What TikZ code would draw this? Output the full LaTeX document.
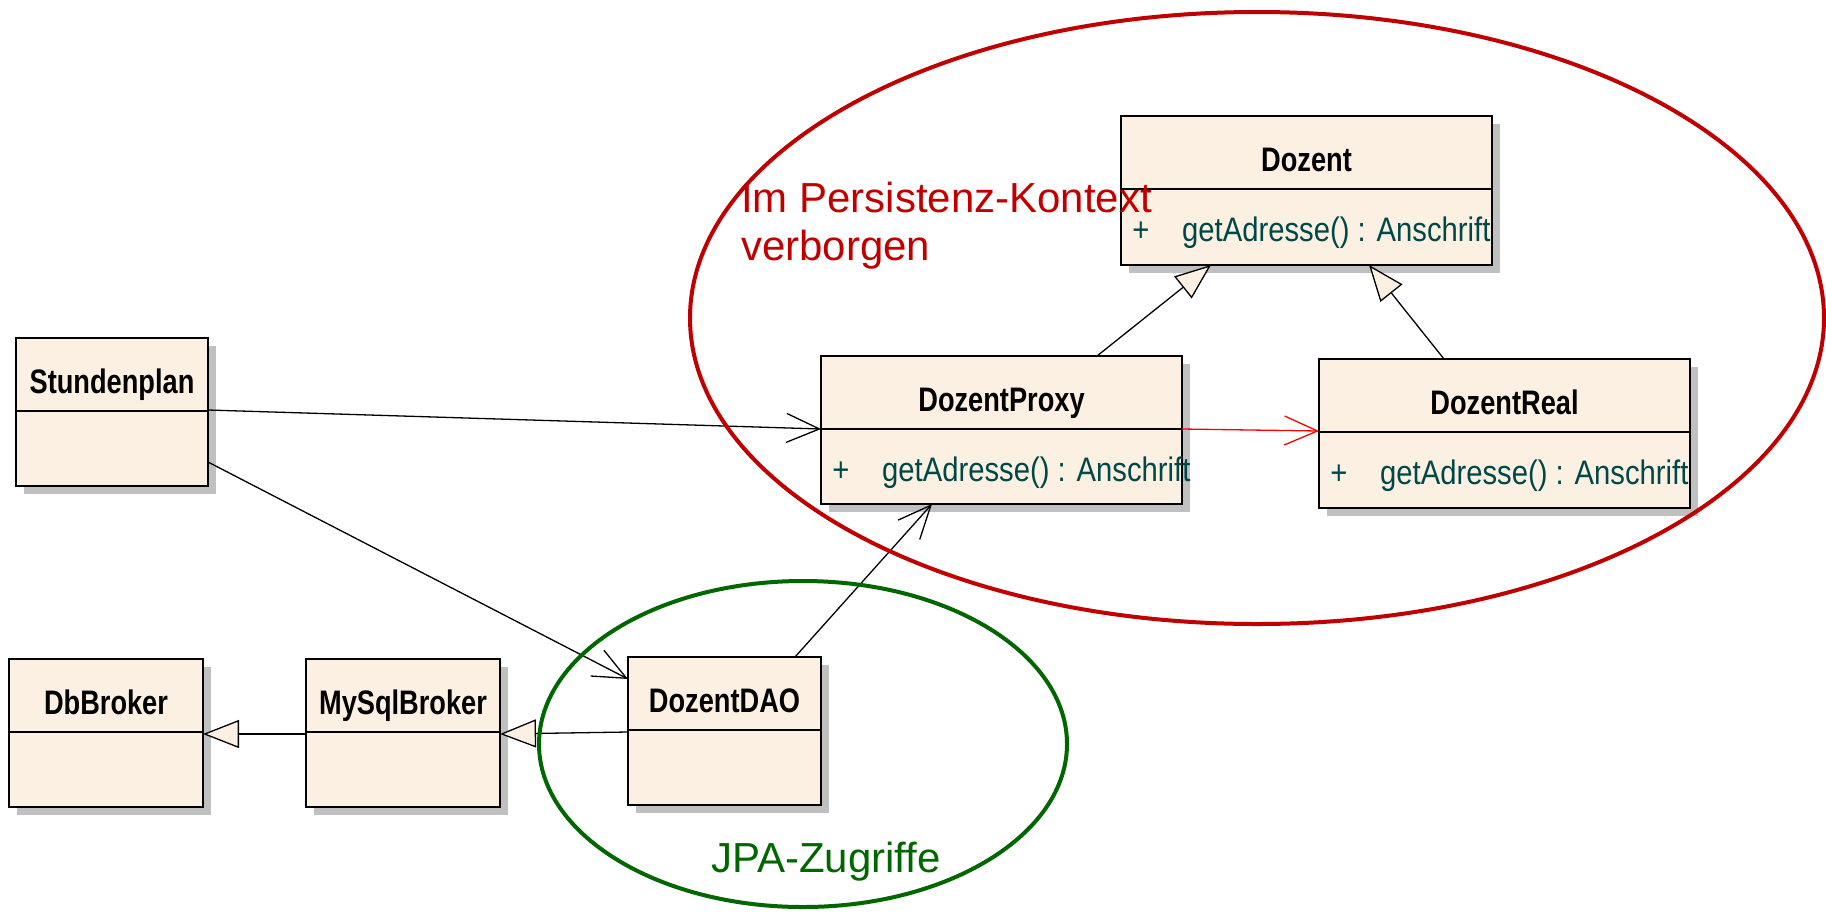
\documentclass[tikz,border=0pt]{standalone}
\usepackage{fontspec}
\setmainfont{Liberation Sans}
\newfontfamily\namefont{Liberation Sans}[FakeStretch=0.8]
\newfontfamily\opfont{Liberation Sans}[FakeStretch=0.86]
\usetikzlibrary{arrows.meta,shadows}

\definecolor{umlfill}{RGB}{251,240,226}
\definecolor{umlshadow}{RGB}{192,192,192}
\definecolor{opcol}{RGB}{0,72,72}
\definecolor{ctxred}{RGB}{192,0,0}
\definecolor{jpagreen}{RGB}{0,102,0}

\tikzset{
  cls/.style={draw,line width=1.8pt,fill=umlfill,anchor=north west,inner sep=0pt,outer sep=0pt,
    drop shadow={shadow xshift=8pt,shadow yshift=-8pt,fill=umlshadow,opacity=1}},
  clsname/.style={anchor=base,inner sep=0pt,font=\namefont\bfseries\fontsize{34}{40}\selectfont},
  opsign/.style={anchor=base,inner sep=0pt,text=opcol,font=\opfont\fontsize{34}{40}\selectfont},
  optext/.style={anchor=base west,inner sep=0pt,text=opcol,font=\opfont\fontsize{34}{40}\selectfont},
  assoc/.style={line width=1.3pt,-{Straight Barb[length=33pt,width=29pt]}},
  inherit/.style={line width=1.3pt,-{Triangle[open,length=36pt,width=28pt,fill=umlfill]}},
  region/.style={line width=4pt}
}

\begin{document}
\begin{tikzpicture}[x=1pt,y=-1pt]
  \useasboundingbox (0,0) rectangle (1826,914);
  % classes
  \node[cls,minimum width=371pt,minimum height=149pt] (dozent) at (1121,116) {};
  \node[cls,minimum width=361pt,minimum height=148pt] (proxy) at (821,356) {};
  \node[cls,minimum width=371pt,minimum height=149pt] (real) at (1319,359) {};
  \node[cls,minimum width=192pt,minimum height=148pt] (plan) at (16,338) {};
  \node[cls,minimum width=194pt,minimum height=148pt] (db) at (9,659) {};
  \node[cls,minimum width=194pt,minimum height=148pt] (mysql) at (306,659) {};
  \node[cls,minimum width=193pt,minimum height=148pt] (dao) at (628,657) {};
  \foreach \c in {dozent,proxy,real,plan,db,mysql,dao}
    \draw[line width=1.8pt] ([yshift=-73pt]\c.north west) -- ([yshift=-73pt]\c.north east);
  % names
  \node[clsname] (dozentname) at ([yshift=-55pt]dozent.north) {Dozent};
  \node[clsname] (proxyname) at ([yshift=-55pt]proxy.north) {DozentProxy};
  \node[clsname] (realname) at ([yshift=-55pt]real.north) {DozentReal};
  \node[clsname] (planname) at ([yshift=-55pt]plan.north) {Stundenplan};
  \node[clsname] (dbname) at ([yshift=-55pt]db.north) {DbBroker};
  \node[clsname] (mysqlname) at ([yshift=-55pt]mysql.north) {MySqlBroker};
  \node[clsname] (daoname) at ([yshift=-55pt]dao.north) {DozentDAO};
  % operations
  \foreach \c in {dozent,proxy,real} {
    \node[opsign] (\c plus) at ([xshift=20pt,yshift=-125pt]\c.north west) {+};
    \node[optext] (\c op) at ([xshift=61pt,yshift=-125pt]\c.north west) {getAdresse() : Anschrift};
  }
  % associations
  \draw[assoc] ([yshift=-72pt]plan.north east) -- ([yshift=-73pt]proxy.north west);
  \draw[assoc] ([yshift=-124pt]plan.north east) -- ([yshift=-22pt]dao.north west);
  \draw[assoc] ([xshift=-26pt]dao.north east) -- ([xshift=111pt]proxy.south west);
  \draw[assoc,red] ([yshift=-73pt]proxy.north east) -- ([yshift=-72pt]real.north west);
  % generalizations
  \draw[inherit] ([yshift=-75pt]dao.north west) -- ([yshift=-75pt]mysql.north east);
  \draw[inherit] ([yshift=-75pt]mysql.north west) -- ([yshift=-75pt]db.north east);
  \draw[inherit] ([xshift=276pt]proxy.north west) -- ([xshift=90pt]dozent.south west);
  \draw[inherit] ([xshift=125pt]real.north west) -- ([xshift=248pt]dozent.south west);
  % regions
  \draw[region,ctxred] (1257,318) ellipse [x radius=567pt,y radius=306pt];
  \draw[region,jpagreen] (803,744) ellipse [x radius=264pt,y radius=163pt];
  \node[anchor=base west,inner sep=0pt,align=left,text=ctxred,font=\fontsize{42}{48}\selectfont]
    (ctxlabel) at (741,260) {Im Persistenz-Kontext\\verborgen};
  \node[anchor=base west,inner sep=0pt,text=jpagreen,font=\fontsize{42}{48}\selectfont]
    (jpalabel) at (711,872) {JPA-Zugriffe};
\end{tikzpicture}
\end{document}
